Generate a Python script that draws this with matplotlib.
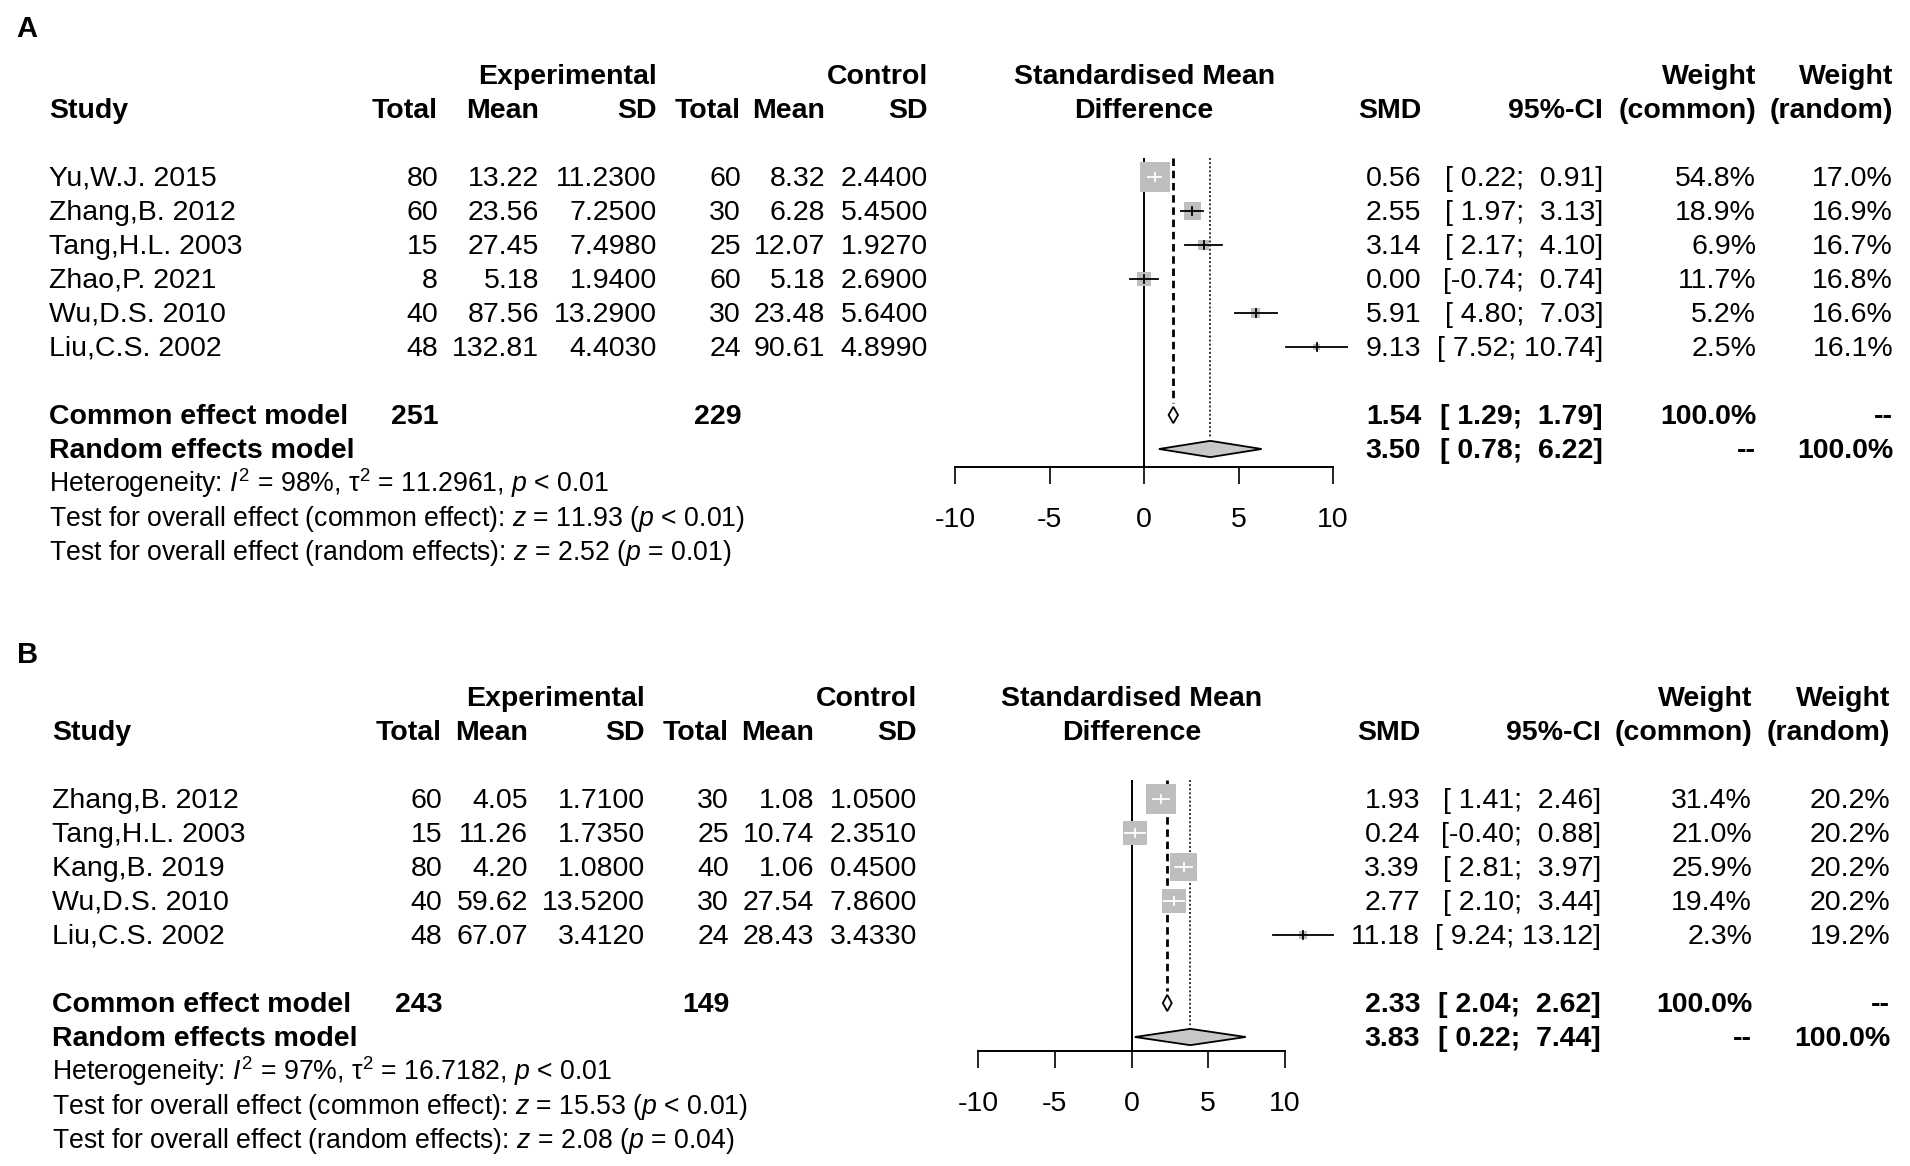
import numpy as np
import matplotlib
matplotlib.use("Agg")
import matplotlib.pyplot as plt
import matplotlib.transforms as mtransforms

plt.rcParams["font.family"] = ["Liberation Sans", "DejaVu Sans"]
plt.rcParams["mathtext.fontset"] = "custom"
plt.rcParams["mathtext.rm"] = "Liberation Sans"
plt.rcParams["mathtext.it"] = "Liberation Sans:italic"
plt.rcParams["mathtext.bf"] = "Liberation Sans:bold"
plt.rcParams["axes.unicode_minus"] = False

# ---- panel A data ----
studies_a = ["Yu,W.J. 2015", "Zhang,B. 2012", "Tang,H.L. 2003",
             "Zhao,P. 2021", "Wu,D.S. 2010", "Liu,C.S. 2002"]
exp_total_a = [80, 60, 15, 8, 40, 48]
exp_mean_a = [13.22, 23.56, 27.45, 5.18, 87.56, 132.81]
exp_sd_a = [11.23, 7.25, 7.498, 1.94, 13.29, 4.403]
ctl_total_a = [60, 30, 25, 60, 30, 24]
ctl_mean_a = [8.32, 6.28, 12.07, 5.18, 23.48, 90.61]
ctl_sd_a = [2.44, 5.45, 1.927, 2.69, 5.64, 4.899]
smd_a = [0.56, 2.55, 3.14, 0.00, 5.91, 9.13]
lo_a = [0.22, 1.97, 2.17, -0.74, 4.80, 7.52]
hi_a = [0.91, 3.13, 4.10, 0.74, 7.03, 10.74]
w_common_a = [54.8, 18.9, 6.9, 11.7, 5.2, 2.5]
w_random_a = [17.0, 16.9, 16.7, 16.8, 16.6, 16.1]
totals_a = [251, 229]
common_a = [1.54, 1.29, 1.79]
random_a = [3.50, 0.78, 6.22]
het_a = [98, 11.2961, "< 0.01"]
test_common_a = [11.93, "< 0.01"]
test_random_a = [2.52, "= 0.01"]

# ---- panel B data ----
studies_b = ["Zhang,B. 2012", "Tang,H.L. 2003", "Kang,B. 2019",
             "Wu,D.S. 2010", "Liu,C.S. 2002"]
exp_total_b = [60, 15, 80, 40, 48]
exp_mean_b = [4.05, 11.26, 4.20, 59.62, 67.07]
exp_sd_b = [1.71, 1.735, 1.08, 13.52, 3.412]
ctl_total_b = [30, 25, 40, 30, 24]
ctl_mean_b = [1.08, 10.74, 1.06, 27.54, 28.43]
ctl_sd_b = [1.05, 2.351, 0.45, 7.86, 3.433]
smd_b = [1.93, 0.24, 3.39, 2.77, 11.18]
lo_b = [1.41, -0.40, 2.81, 2.10, 9.24]
hi_b = [2.46, 0.88, 3.97, 3.44, 13.12]
w_common_b = [31.4, 21.0, 25.9, 19.4, 2.3]
w_random_b = [20.2, 20.2, 20.2, 20.2, 19.2]
totals_b = [243, 149]
common_b = [2.33, 2.04, 2.62]
random_b = [3.83, 0.22, 7.44]
het_b = [97, 16.7182, "< 0.01"]
test_common_b = [15.53, "< 0.01"]
test_random_b = [2.08, "= 0.04"]

ticks = [-10, -5, 0, 5, 10]

W, H = 1910, 1166
FS = 20.5
FS_HET = 19.2
ROW = 34.0
BASE = 0.25   # baseline offset below the row centre, in rows
GRAY = "#bebebe"

fig = plt.figure(figsize=(W / 100, H / 100), dpi=100)


def ci_text(lo, hi):
    return f"[{lo:5.2f}; {hi:5.2f}]"


def draw_panel(lay, studies, et, em, esd, ct, cm, csd, smd, lo, hi, wc, wr,
               totals, common, random, het, tcom, tran):
    n = len(studies)
    y0 = lay["y0"]
    top_row, bot_row = -4.0, lay["bottom_row"]
    pix_top = y0 + ROW * top_row
    pix_bot = y0 + ROW * bot_row
    ax = fig.add_axes([lay["xl"] / W, 1 - pix_bot / H,
                       (lay["xr"] - lay["xl"]) / W, (pix_bot - pix_top) / H])
    ax.set_xlim(-10, 10)
    ax.set_ylim(bot_row, top_row)
    ax.patch.set_visible(False)
    pxu = (lay["xr"] - lay["xl"]) / 20.0

    tr = mtransforms.blended_transform_factory(fig.transFigure, ax.transData)

    def put(x, row, s, ha="right", bold=False, size=FS):
        ax.text(x / W, row + BASE, s, transform=tr, ha=ha, va="baseline",
                fontsize=size, fontweight="bold" if bold else "normal")

    c = lay["cols"]
    # header
    put(c["esd"], -3, "Experimental", bold=True)
    put(c["csd"], -3, "Control", bold=True)
    ax.text(0, -3 + BASE, "Standardised Mean", ha="center", va="baseline",
            fontsize=FS, fontweight="bold")
    ax.text(0, -2 + BASE, "Difference", ha="center", va="baseline",
            fontsize=FS, fontweight="bold")
    put(c["wc"], -3, "Weight", bold=True)
    put(c["wr"], -3, "Weight", bold=True)
    put(c["study"], -2, "Study", ha="left", bold=True)
    for key, lab in [("et", "Total"), ("em", "Mean"), ("esd", "SD"),
                     ("ct", "Total"), ("cm", "Mean"), ("csd", "SD"),
                     ("smd", "SMD"), ("ci", "95%-CI"), ("wc", "(common)"),
                     ("wr", "(random)")]:
        put(c[key], -2, lab, bold=True)

    rows = np.arange(n)
    for i in range(n):
        put(c["study"], i, studies[i], ha="left")
        put(c["et"], i, f"{et[i]}")
        put(c["em"], i, f"{em[i]:.2f}")
        put(c["esd"], i, f"{esd[i]:.4f}")
        put(c["ct"], i, f"{ct[i]}")
        put(c["cm"], i, f"{cm[i]:.2f}")
        put(c["csd"], i, f"{csd[i]:.4f}")
        put(c["smd"], i, f"{smd[i]:.2f}")
        put(c["ci"], i, ci_text(lo[i], hi[i]))
        put(c["wc"], i, f"{wc[i]:.1f}%")
        put(c["wr"], i, f"{wr[i]:.1f}%")

    rc, rr = n + 1, n + 2
    put(c["study"], rc, "Common effect model", ha="left", bold=True)
    put(c["et"], rc, f"{totals[0]}", bold=True)
    put(c["ct"], rc, f"{totals[1]}", bold=True)
    put(c["smd"], rc, f"{common[0]:.2f}", bold=True)
    put(c["ci"], rc, ci_text(common[1], common[2]), bold=True)
    put(c["wc"], rc, "100.0%", bold=True)
    put(c["wr"], rc, "--", bold=True)
    put(c["study"], rr, "Random effects model", ha="left", bold=True)
    put(c["smd"], rr, f"{random[0]:.2f}", bold=True)
    put(c["ci"], rr, ci_text(random[1], random[2]), bold=True)
    put(c["wc"], rr, "--", bold=True)
    put(c["wr"], rr, "100.0%", bold=True)

    put(c["study"], n + 3, r"Heterogeneity: $I^2$ = " + f"{het[0]}%, "
        + r"$\mathrm{\tau}^2$ = " + f"{het[1]:.4f}, " + r"$p$ " + het[2],
        ha="left", size=FS_HET)
    put(c["study"], n + 4, r"Test for overall effect (common effect): $z$ = "
        + f"{tcom[0]:.2f} (" + r"$p$ " + tcom[1] + ")", ha="left", size=FS_HET)
    put(c["study"], n + 5, r"Test for overall effect (random effects): $z$ = "
        + f"{tran[0]:.2f} (" + r"$p$ " + tran[1] + ")", ha="left", size=FS_HET)

    # reference lines
    top = -0.57
    ax.vlines(0, top, lay["axis_row"], color="black", lw=1.4, zorder=1)
    ax.plot([common[0], common[0]], [top, rc - 0.35], color="black", lw=2.0,
            ls=(0, (2.7, 1.7)), zorder=1)
    ax.plot([random[0], random[0]], [top, rr - 0.35], color="black", lw=1.1,
            ls=(0, (1.3, 1.4)), zorder=1)

    # study squares and CIs
    wc_arr = np.array(wc)
    side = 30.0 * np.sqrt(wc_arr / wc_arr.max())
    ax.scatter(smd, rows, s=(side * 0.72) ** 2, marker="s", color=GRAY,
               linewidths=0, zorder=3, clip_on=False)
    tick = 4.0 / ROW
    for i in range(n):
        half = side[i] / 2 / pxu
        inside = lo[i] >= smd[i] - half and hi[i] <= smd[i] + half
        col = "white" if inside else "black"
        ax.plot([lo[i], hi[i]], [i, i], color=col, lw=1.3, zorder=4,
                clip_on=False)
        ax.plot([smd[i], smd[i]], [i - tick, i + tick], color=col, lw=1.3,
                zorder=4, clip_on=False)

    # diamonds
    hd = 0.24
    for row, (est, l, h), fc in [(rc, common, "white"), (rr, random, "#c8c8c8")]:
        ax.fill([l, est, h, est], [row, row - hd, row, row + hd], facecolor=fc,
                edgecolor="black", lw=1.3, zorder=3)

    # x axis
    for s in ["left", "right", "top"]:
        ax.spines[s].set_visible(False)
    ax.spines["bottom"].set_position(("data", lay["axis_row"]))
    ax.spines["bottom"].set_bounds(-10, 10)
    ax.spines["bottom"].set_linewidth(1.4)
    ax.set_yticks([])
    ax.set_xticks(ticks)
    ax.set_xticklabels([str(t) for t in ticks])
    ax.tick_params(axis="x", direction="out", length=12.5, width=1.2, pad=16,
                   labelsize=FS)

    fig.text(lay["lab"][0] / W, 1 - lay["lab"][1] / H, lay["name"],
             ha="center", va="center", fontsize=21, fontweight="bold")


lay_a = dict(name="A", lab=(27, 29), y0=177, bottom_row=11.8, xl=955.5, xr=1333,
             axis_row=8.53,
             cols=dict(study=49, et=438, em=539, esd=657, ct=741, cm=825,
                       csd=928, smd=1421, ci=1603, wc=1756, wr=1893))
lay_b = dict(name="B", lab=(28, 655), y0=799, bottom_row=10.5, xl=978, xr=1285,
             axis_row=7.41,
             cols=dict(study=52, et=442, em=528, esd=645, ct=729, cm=814,
                       csd=917, smd=1420, ci=1601, wc=1752, wr=1890))

draw_panel(lay_a, studies_a, exp_total_a, exp_mean_a, exp_sd_a, ctl_total_a,
           ctl_mean_a, ctl_sd_a, smd_a, lo_a, hi_a, w_common_a, w_random_a,
           totals_a, common_a, random_a, het_a, test_common_a, test_random_a)
draw_panel(lay_b, studies_b, exp_total_b, exp_mean_b, exp_sd_b, ctl_total_b,
           ctl_mean_b, ctl_sd_b, smd_b, lo_b, hi_b, w_common_b, w_random_b,
           totals_b, common_b, random_b, het_b, test_common_b, test_random_b)

fig.savefig("out.png", dpi=100, facecolor="white")
